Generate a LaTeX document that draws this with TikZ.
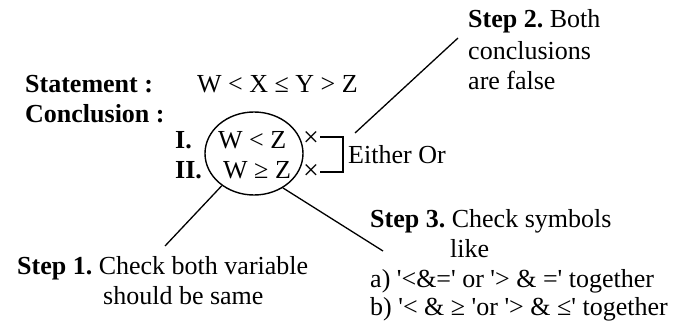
\documentclass[tikz,border=0pt]{standalone}
\usepackage{fontspec}
\newfontfamily\tnr{Liberation Serif}
\usetikzlibrary{shapes.geometric}
\tikzset{
  txt/.style={inner sep=0pt, anchor=base west, font=\tnr\fontsize{26}{31}\selectfont\frenchspacing},
  xmark/.style={inner sep=0pt, anchor=center, font=\tnr\fontsize{28}{32}\selectfont},
  conn/.style={line width=1.3pt},
  brk/.style={line width=1.8pt},
  oval/.style={draw, ellipse, line width=1.4pt, inner sep=0pt, minimum width=98pt, minimum height=83pt}
}
\begin{document}
\begin{tikzpicture}[x=1pt,y=-1pt]
\useasboundingbox (0,0) rectangle (690,326);
% statement and conclusions
\node[txt] (stmt) at (25,93) {\bfseries Statement :};
\node[txt] (expr) at (197,93) {W < X ≤ Y > Z};
\node[txt] (concl) at (25,122) {\bfseries Conclusion :};
\node[txt] (lab1) at (175,148) {\bfseries I.};
\node[txt] (lab2) at (175,178) {\bfseries II.};
\node[txt] (c1) at (218,148) {W < Z};
\node[txt] (c2) at (223,178) {W ≥ Z};
\node[oval] (ell) at (254,153.5) {};
\node[xmark] (x1) at (311,139) {×};
\node[xmark] (x2) at (311,172) {×};
% bracket
\coordinate (b1) at (320,137);
\coordinate (b2) at (343,137);
\coordinate (b3) at (343,172);
\coordinate (b4) at (320,172);
\draw[brk] (b1) -- (b2) -- (b3) -- (b4);
\node[txt] (either) at (348,163) {Either Or};
% step 2
\node[txt] (s2a) at (468,28) {\bfseries Step 2.\mdseries{} Both};
\node[txt] (s2b) at (468,60) {conclusions};
\node[txt] (s2c) at (468,90) {are false};
\coordinate (l2a) at (355,133);
\coordinate (l2b) at (458,38);
\draw[conn] (l2a) -- (l2b);
% step 1
\node[txt] (s1a) at (17,274) {\bfseries Step 1.\mdseries{} Check both variable};
\node[txt] (s1b) at (103,304) {should be same};
\coordinate (l1b) at (165,246);
\draw[conn] (ell.225) -- (l1b);
% step 3
\node[txt] (s3a) at (370,227) {\bfseries Step 3.\mdseries{} Check symbols};
\node[txt] (s3b) at (450,257) {like};
\node[txt] (s3c) at (370,287) {a) '<\&=' or '> \& =' together};
\node[txt] (s3d) at (370,315) {b) '< \& ≥ 'or '> \& ≤' together};
\coordinate (l3b) at (383,251);
\draw[conn] (ell.-50) -- (l3b);
\end{tikzpicture}
\end{document}
